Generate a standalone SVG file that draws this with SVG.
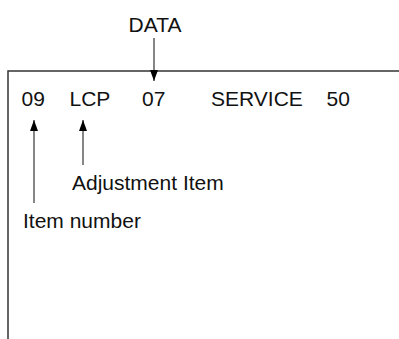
<svg xmlns="http://www.w3.org/2000/svg" width="399" height="339" viewBox="0 0 399 339">
<style>
text{font-family:"Liberation Sans",Arial,sans-serif;font-size:21px;fill:#111}
.ln{stroke:#333;stroke-width:1.5;fill:none}
.ar{stroke:#444;stroke-width:1.3;fill:none}
</style>
<defs>
<marker id="ah" markerWidth="11" markerHeight="8" refX="11" refY="4" orient="auto" markerUnits="userSpaceOnUse" viewBox="0 0 11 8">
<path d="M0,0 L11,4 L0,8 Z" fill="#000"/>
</marker>
</defs>
<g id="frame">
<path class="ln" d="M8,339 V71 H399"/>
</g>
<g id="data"><text x="155" y="32" text-anchor="middle">DATA</text></g>
<g id="row">
<text x="21.5" y="106">09</text>
<text x="69.5" y="106">LCP</text>
<text x="142" y="106">07</text>
<text x="211" y="106">SERVICE</text>
<text x="326.5" y="106">50</text>
</g>
<g id="adjustment"><text x="72" y="189.5">Adjustment Item</text></g>
<g id="itemnumber"><text x="23" y="227.5">Item number</text></g>
<g id="connectors">
<line class="ar" x1="154" y1="38" x2="154" y2="81" marker-end="url(#ah)"/>
<line class="ar" x1="83" y1="165" x2="83" y2="120" marker-end="url(#ah)"/>
<line class="ar" x1="34" y1="203" x2="34" y2="120" marker-end="url(#ah)"/>
</g>
</svg>
